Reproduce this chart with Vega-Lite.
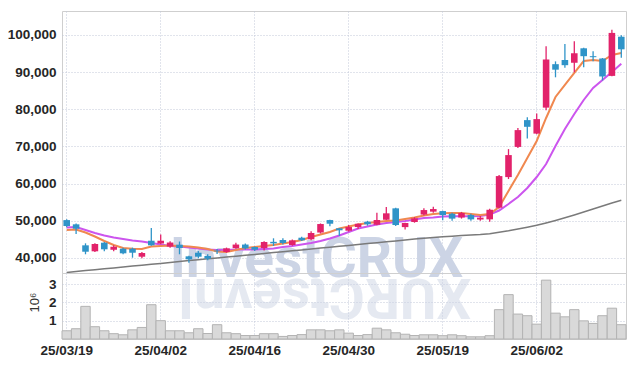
{
  "$schema": "https://vega.github.io/schema/vega-lite/v6.json",
  "autosize": {"type": "pad"},
  "padding": {"left": 6, "top": 10, "right": 5, "bottom": 5},
  "background": "white",
  "spacing": 0,
  "bounds": "flush",
  "config": {
    "view": {"stroke": "#cfcfcf", "strokeWidth": 1},
    "axis": {
      "labelFont": "Liberation Sans",
      "labelFontSize": 13.5,
      "labelFontWeight": "bold",
      "labelColor": "#262626",
      "gridColor": "#c3c9d8",
      "gridDash": [1, 2],
      "gridWidth": 1,
      "ticks": false,
      "domain": false
    }
  },
  "datasets": {
    "k": [
      {"d":"25/03/19","o":50200,"h":50400,"l":48300,"c":48600,"v":450000,"m5":47530,"m20":48210,"m60":36130},
      {"d":"25/03/20","o":49060,"h":49300,"l":46450,"c":47880,"v":560000,"m5":47670,"m20":48340,"m60":36370},
      {"d":"25/03/21","o":43410,"h":43950,"l":41000,"c":41690,"v":1780000,"m5":46860,"m20":47530,"m60":36610},
      {"d":"25/03/24","o":41800,"h":43950,"l":41600,"c":43760,"v":670000,"m5":45780,"m20":46730,"m60":36850},
      {"d":"25/03/25","o":44110,"h":44300,"l":41800,"c":42340,"v":450000,"m5":44570,"m20":46050,"m60":37100},
      {"d":"25/03/26","o":42230,"h":43400,"l":41800,"c":43040,"v":290000,"m5":43500,"m20":45520,"m60":37340},
      {"d":"25/03/27","o":42500,"h":42770,"l":41000,"c":41260,"v":230000,"m5":42690,"m20":45110,"m60":37580},
      {"d":"25/03/28","o":42500,"h":42800,"l":40080,"c":41420,"v":500000,"m5":42500,"m20":44710,"m60":37820},
      {"d":"25/03/31","o":40350,"h":41600,"l":39900,"c":41340,"v":630000,"m5":42420,"m20":44440,"m60":38060},
      {"d":"25/04/01","o":44650,"h":48060,"l":43300,"c":43410,"v":1870000,"m5":43090,"m20":44040,"m60":38310},
      {"d":"25/04/02","o":43900,"h":46350,"l":43700,"c":44650,"v":1000000,"m5":43230,"m20":43630,"m60":38550},
      {"d":"25/04/03","o":43090,"h":44540,"l":42770,"c":44160,"v":450000,"m5":43360,"m20":43230,"m60":38790},
      {"d":"25/04/04","o":43580,"h":44430,"l":41000,"c":42690,"v":450000,"m5":43230,"m20":43090,"m60":39060},
      {"d":"25/04/07","o":40450,"h":40600,"l":38740,"c":39650,"v":340000,"m5":43090,"m20":42830,"m60":39300},
      {"d":"25/04/08","o":41420,"h":41880,"l":39900,"c":40350,"v":560000,"m5":42830,"m20":42560,"m60":39540},
      {"d":"25/04/09","o":40540,"h":41000,"l":39380,"c":39820,"v":300000,"m5":42420,"m20":42290,"m60":39790},
      {"d":"25/04/10","o":42000,"h":42400,"l":41100,"c":41800,"v":780000,"m5":41750,"m20":42150,"m60":40000},
      {"d":"25/04/11","o":41610,"h":42800,"l":41400,"c":42610,"v":340000,"m5":41610,"m20":42150,"m60":40240},
      {"d":"25/04/14","o":42660,"h":44100,"l":42500,"c":43620,"v":290000,"m5":42150,"m20":42290,"m60":40480},
      {"d":"25/04/15","o":43620,"h":43900,"l":42300,"c":42580,"v":190000,"m5":42690,"m20":42290,"m60":40730},
      {"d":"25/04/16","o":42960,"h":43100,"l":41880,"c":42230,"v":190000,"m5":42960,"m20":42290,"m60":40970},
      {"d":"25/04/17","o":42660,"h":44540,"l":41990,"c":44300,"v":290000,"m5":43230,"m20":42420,"m60":41210},
      {"d":"25/04/18","o":44350,"h":45300,"l":43230,"c":43950,"v":290000,"m5":43500,"m20":42560,"m60":41450},
      {"d":"25/04/21","o":44840,"h":45300,"l":43600,"c":44030,"v":140000,"m5":43900,"m20":42960,"m60":41700},
      {"d":"25/04/22","o":43500,"h":45000,"l":43300,"c":44760,"v":190000,"m5":44300,"m20":43230,"m60":41940},
      {"d":"25/04/23","o":45460,"h":45700,"l":44600,"c":44760,"v":240000,"m5":44840,"m20":43630,"m60":42180},
      {"d":"25/04/24","o":45030,"h":47170,"l":44800,"c":46720,"v":500000,"m5":45650,"m20":44040,"m60":42420},
      {"d":"25/04/25","o":46850,"h":49300,"l":46600,"c":49140,"v":500000,"m5":46320,"m20":44570,"m60":42660},
      {"d":"25/04/28","o":50210,"h":50300,"l":48520,"c":49220,"v":450000,"m5":47000,"m20":45250,"m60":42910},
      {"d":"25/04/29","o":47980,"h":48100,"l":45900,"c":47450,"v":500000,"m5":47940,"m20":46050,"m60":43150},
      {"d":"25/04/30","o":47340,"h":48870,"l":47100,"c":48330,"v":320000,"m5":48480,"m20":47000,"m60":43390},
      {"d":"25/05/02","o":48330,"h":49300,"l":47800,"c":49220,"v":190000,"m5":49010,"m20":47940,"m60":43630},
      {"d":"25/05/07","o":49760,"h":50000,"l":48700,"c":49060,"v":240000,"m5":49420,"m20":48480,"m60":43870},
      {"d":"25/05/08","o":48950,"h":52180,"l":48800,"c":50220,"v":590000,"m5":49690,"m20":49010,"m60":44120},
      {"d":"25/05/09","o":50300,"h":53710,"l":50200,"c":52020,"v":500000,"m5":49950,"m20":49420,"m60":44360},
      {"d":"25/05/12","o":53360,"h":53500,"l":48600,"c":48870,"v":340000,"m5":50090,"m20":49690,"m60":44600},
      {"d":"25/05/13","o":48310,"h":49500,"l":47690,"c":49410,"v":260000,"m5":50490,"m20":49950,"m60":44840},
      {"d":"25/05/14","o":49680,"h":51000,"l":49500,"c":50670,"v":190000,"m5":50900,"m20":50360,"m60":45110},
      {"d":"25/05/15","o":51690,"h":53360,"l":51420,"c":52900,"v":230000,"m5":51430,"m20":50760,"m60":45330},
      {"d":"25/05/16","o":52470,"h":53790,"l":52200,"c":53170,"v":230000,"m5":51840,"m20":50900,"m60":45520},
      {"d":"25/05/19","o":52630,"h":52700,"l":50130,"c":51560,"v":180000,"m5":52030,"m20":51170,"m60":45700},
      {"d":"25/05/20","o":51910,"h":52180,"l":50000,"c":50590,"v":230000,"m5":52110,"m20":51220,"m60":45860},
      {"d":"25/05/21","o":50890,"h":52400,"l":50600,"c":52100,"v":180000,"m5":52110,"m20":51220,"m60":46030},
      {"d":"25/05/22","o":51560,"h":51900,"l":49990,"c":50400,"v":120000,"m5":51840,"m20":51220,"m60":46190},
      {"d":"25/05/23","o":50350,"h":51300,"l":49990,"c":50860,"v":120000,"m5":51570,"m20":51300,"m60":46320},
      {"d":"25/05/26","o":50400,"h":53250,"l":49720,"c":52980,"v":180000,"m5":51840,"m20":51700,"m60":46510},
      {"d":"25/05/27","o":53520,"h":62300,"l":53300,"c":62040,"v":1600000,"m5":53720,"m20":52780,"m60":46910},
      {"d":"25/05/28","o":61770,"h":69300,"l":61240,"c":67690,"v":2420000,"m5":58030,"m20":54530,"m60":47320},
      {"d":"25/05/29","o":69890,"h":74950,"l":69600,"c":74410,"v":1360000,"m5":62330,"m20":56410,"m60":47800},
      {"d":"25/05/30","o":77100,"h":77900,"l":72180,"c":75300,"v":1270000,"m5":66910,"m20":58830,"m60":48290},
      {"d":"25/06/02","o":73470,"h":78900,"l":73300,"c":77370,"v":810000,"m5":71480,"m20":61790,"m60":48800},
      {"d":"25/06/04","o":80460,"h":96990,"l":79780,"c":93410,"v":3210000,"m5":77670,"m20":65290,"m60":49420},
      {"d":"25/06/05","o":92150,"h":92900,"l":88620,"c":90670,"v":1410000,"m5":83320,"m20":70130,"m60":50090},
      {"d":"25/06/09","o":93280,"h":97600,"l":91200,"c":91880,"v":1210000,"m5":86550,"m20":74710,"m60":50810},
      {"d":"25/06/10","o":92560,"h":98330,"l":89970,"c":95110,"v":1600000,"m5":89780,"m20":78740,"m60":51570},
      {"d":"25/06/11","o":96420,"h":96600,"l":91340,"c":94300,"v":990000,"m5":93000,"m20":82510,"m60":52370},
      {"d":"25/06/12","o":94300,"h":95650,"l":92960,"c":94030,"v":850000,"m5":93270,"m20":85740,"m60":53180},
      {"d":"25/06/13","o":93680,"h":93800,"l":87760,"c":88840,"v":1270000,"m5":93000,"m20":87890,"m60":53990},
      {"d":"25/06/16","o":89000,"h":101430,"l":88900,"c":100560,"v":1680000,"m5":94620,"m20":90040,"m60":54800},
      {"d":"25/06/17","o":99540,"h":99950,"l":93900,"c":96150,"v":780000,"m5":95160,"m20":92280,"m60":55520}
    ],
    "wm": [{"d": "25/04/25", "t": "InvestCRUX", "r": "XURCtsevnI"}]
  },
  "vconcat": [
    {
      "width": 564,
      "height": 262,
      "data": {"name": "k"},
      "encoding": {
        "x": {
          "field": "d", "type": "ordinal", "sort": null,
          "scale": {"paddingInner": 0, "paddingOuter": 0, "domain": ["25/03/19","25/03/20","25/03/21","25/03/24","25/03/25","25/03/26","25/03/27","25/03/28","25/03/31","25/04/01","25/04/02","25/04/03","25/04/04","25/04/07","25/04/08","25/04/09","25/04/10","25/04/11","25/04/14","25/04/15","25/04/16","25/04/17","25/04/18","25/04/21","25/04/22","25/04/23","25/04/24","25/04/25","25/04/28","25/04/29","25/04/30","25/05/02","25/05/07","25/05/08","25/05/09","25/05/12","25/05/13","25/05/14","25/05/15","25/05/16","25/05/19","25/05/20","25/05/21","25/05/22","25/05/23","25/05/26","25/05/27","25/05/28","25/05/29","25/05/30","25/06/02","25/06/04","25/06/05","25/06/09","25/06/10","25/06/11","25/06/12","25/06/13","25/06/16","25/06/17"]},
          "axis": {"values": ["25/03/19","25/04/02","25/04/16","25/04/30","25/05/19","25/06/02"], "labels": false, "grid": true, "bandPosition": 0.5, "title": null}
        }
      },
      "layer": [
        {
          "data": {"name": "wm"},
          "mark": {"type": "text", "font": "Roboto", "fontWeight": "bold", "fontSize": 55, "fill": "#ccd4e5", "align": "center", "baseline": "alphabetic", "dx": -4},
          "encoding": {
            "y": {"datum": 34900, "type": "quantitative", "scale": {"domain": [35964, 106457], "nice": false, "zero": false}, "axis": {"values": [40000,50000,60000,70000,80000,90000,100000], "format": ",.0f", "grid": true, "labelPadding": 6, "title": null}},
            "text": {"field": "t"}
          }
        },
        {
          "mark": {"type": "line", "color": "#7a7a7a", "strokeWidth": 1.5},
          "encoding": {"y": {"field": "m60", "type": "quantitative", "axis": {"values": [40000,50000,60000,70000,80000,90000,100000], "format": ",.0f", "grid": true, "labelPadding": 6, "title": null}}}
        },
        {
          "mark": {"type": "line", "color": "#cc55ee", "strokeWidth": 2},
          "encoding": {"y": {"field": "m20", "type": "quantitative"}}
        },
        {
          "mark": {"type": "line", "color": "#f0884f", "strokeWidth": 2},
          "encoding": {"y": {"field": "m5", "type": "quantitative"}}
        },
        {
          "mark": {"type": "rule", "strokeWidth": 1.3},
          "encoding": {
            "y": {"field": "l", "type": "quantitative"},
            "y2": {"field": "h"},
            "color": {"condition": {"test": "datum.c > datum.o", "value": "#e2226a"}, "value": "#2f94c8"}
          }
        },
        {
          "mark": {"type": "bar", "width": {"band": 0.7}},
          "encoding": {
            "y": {"field": "o", "type": "quantitative"},
            "y2": {"field": "c"},
            "color": {"condition": {"test": "datum.c > datum.o", "value": "#e2226a"}, "value": "#2f94c8"}
          }
        }
      ]
    },
    {
      "width": 564,
      "height": 66,
      "data": {"name": "k"},
      "encoding": {
        "x": {
          "field": "d", "type": "ordinal", "sort": null,
          "scale": {"paddingInner": 0, "paddingOuter": 0, "domain": ["25/03/19","25/03/20","25/03/21","25/03/24","25/03/25","25/03/26","25/03/27","25/03/28","25/03/31","25/04/01","25/04/02","25/04/03","25/04/04","25/04/07","25/04/08","25/04/09","25/04/10","25/04/11","25/04/14","25/04/15","25/04/16","25/04/17","25/04/18","25/04/21","25/04/22","25/04/23","25/04/24","25/04/25","25/04/28","25/04/29","25/04/30","25/05/02","25/05/07","25/05/08","25/05/09","25/05/12","25/05/13","25/05/14","25/05/15","25/05/16","25/05/19","25/05/20","25/05/21","25/05/22","25/05/23","25/05/26","25/05/27","25/05/28","25/05/29","25/05/30","25/06/02","25/06/04","25/06/05","25/06/09","25/06/10","25/06/11","25/06/12","25/06/13","25/06/16","25/06/17"]},
          "axis": {"values": ["25/03/19","25/04/02","25/04/16","25/04/30","25/05/19","25/06/02"], "labelAngle": 0, "labelPadding": 4, "grid": true, "bandPosition": 0.5, "title": null}
        }
      },
      "layer": [
        {
          "data": {"name": "wm"},
          "mark": {"type": "text", "font": "Roboto", "fontWeight": "bold", "fontSize": 55, "fill": "#ccd4e5", "opacity": 0.5, "angle": 180, "align": "center", "baseline": "alphabetic", "dx": -4},
          "encoding": {
            "y": {"datum": 3270000, "type": "quantitative", "scale": {"domain": [0, 3600000], "nice": false}, "axis": {"values": [1000000, 2000000, 3000000], "labelExpr": "datum.value / 1000000", "grid": true, "labelPadding": 6,
                "title": "10⁶", "titleFont": "Liberation Sans", "titleFontSize": 13, "titleFontWeight": "normal", "titleColor": "#333", "titleAngle": -90, "titleX": -28, "titleY": 29, "titleAlign": "center", "titleBaseline": "middle"}},
            "text": {"field": "r"}
          }
        },
        {
          "mark": {"type": "bar", "fill": "#d9d9d9", "stroke": "#b3b3b3", "strokeWidth": 1},
          "encoding": {
            "y": {"field": "v", "type": "quantitative",
              "axis": {"values": [1000000, 2000000, 3000000], "labelExpr": "datum.value / 1000000", "grid": true, "labelPadding": 6,
                "title": "10⁶", "titleFont": "Liberation Sans", "titleFontSize": 13, "titleFontWeight": "normal", "titleColor": "#333", "titleAngle": -90, "titleX": -28, "titleY": 29, "titleAlign": "center", "titleBaseline": "middle"}}
          }
        }
      ]
    }
  ]
}
